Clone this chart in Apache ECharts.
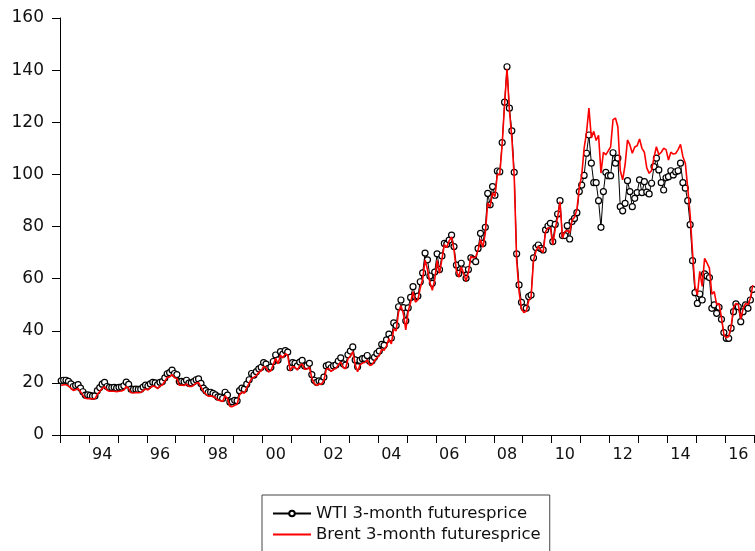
<!DOCTYPE html>
<html>
<head>
<meta charset="utf-8">
<script src="https://cdn.jsdelivr.net/npm/echarts@6/dist/echarts.min.js"></script>
<style>
html,body{margin:0;padding:0;background:#fff;}
#chart{width:755px;height:551px;}
</style>
</head>
<body>
<div id="chart"></div>
<script>
// Monthly observations, Jan 1993 - Dec 2016
var startYear = 1993;
var endYear = 2016;

var wti = [
  20.8, 21.0, 21.0, 20.6, 19.6, 18.6, 19.0, 19.3, 18.0, 16.6, 15.3, 15.4,
  15.2, 14.9, 15.0, 17.0, 18.2, 19.5, 20.2, 18.6, 18.3, 18.2, 18.3, 18.0,
  18.3, 18.4, 18.9, 20.3, 19.4, 17.6, 17.5, 17.6, 17.5, 17.6, 18.4, 19.1,
  18.8, 19.6, 20.2, 20.0, 19.3, 20.2, 20.5, 21.9, 23.5, 23.9, 24.9, 23.6,
  23.2, 20.5, 20.6, 20.4, 21.0, 19.9, 20.0, 20.5, 21.2, 21.5, 19.8, 18.0,
  17.0, 16.3, 16.4, 16.0, 15.4, 14.6, 14.5, 14.0, 16.4, 15.3, 12.6, 12.8,
  13.3, 13.1, 17.0, 18.0, 17.6, 19.5, 21.2, 23.6, 23.0, 24.3, 25.4, 26.0,
  27.8, 27.2, 25.6, 26.0, 28.2, 30.7, 28.8, 32.0, 31.0, 32.4, 31.8, 25.8,
  27.8, 27.5, 26.5, 28.0, 28.6, 26.5, 26.6, 27.5, 23.2, 21.0, 20.2, 20.8,
  20.5, 22.2, 26.5, 26.9, 25.8, 26.5, 26.9, 28.4, 29.6, 27.3, 26.8, 30.8,
  32.2, 33.8, 28.8, 26.2, 28.6, 29.3, 29.4, 30.5, 28.3, 28.5, 29.8, 31.3,
  32.2, 34.8, 34.4, 36.5, 38.7, 37.2, 43.0, 42.0, 49.2, 51.8, 48.9, 43.8,
  48.8, 52.8, 56.9, 53.0, 53.3, 58.8, 62.2, 69.8, 67.2, 61.0, 58.2, 62.5,
  69.5, 63.5, 68.7, 73.5, 73.2, 74.8, 76.7, 72.3, 65.2, 62.0, 65.9, 63.4,
  60.1, 63.5, 68.0, 67.4, 66.5, 71.6, 77.4, 73.5, 79.7, 92.7, 88.3, 95.3,
  92.0, 101.3, 101.0, 112.2, 127.7, 141.3, 125.4, 116.7, 100.8, 69.5, 57.6, 50.9,
  48.9, 48.6, 53.1, 53.7, 68.0, 71.9, 72.9, 71.6, 71.0, 78.7, 80.2, 81.2,
  74.2, 80.8, 84.8, 89.9, 76.5, 76.5, 80.3, 75.2, 81.9, 83.1, 85.3, 93.4,
  95.9, 99.6, 108.1, 115.1, 104.3, 96.8, 96.8, 89.9, 79.7, 93.4, 100.8, 99.5,
  99.5, 108.3, 104.3, 106.2, 87.6, 86.0, 88.9, 97.6, 93.4, 87.6, 90.8, 93.0,
  97.9, 93.0, 97.2, 93.2, 92.5, 96.6, 103.0, 106.2, 101.7, 96.8, 94.0, 98.7,
  99.1, 101.4, 99.8, 101.0, 101.4, 104.3, 96.8, 94.7, 89.9, 80.7, 66.9, 54.6,
  50.5, 54.1, 51.8, 61.8, 61.0, 60.4, 48.6, 49.9, 46.7, 49.0, 44.4, 39.3,
  37.1, 37.1, 41.0, 47.3, 50.3, 49.2, 43.5, 47.3, 49.9, 48.6, 51.8, 55.9
];

var brent = [
  19.0, 19.3, 19.3, 18.8, 18.0, 17.1, 17.4, 17.8, 16.6, 15.3, 14.1, 13.9,
  14.0, 13.8, 13.9, 15.6, 16.7, 17.9, 18.5, 17.2, 16.8, 16.8, 16.8, 16.6,
  16.8, 16.9, 17.3, 18.6, 17.8, 16.2, 16.1, 16.3, 16.2, 16.3, 17.0, 17.7,
  17.3, 18.2, 18.8, 18.6, 17.8, 18.8, 19.2, 20.6, 22.1, 22.3, 23.2, 22.0,
  21.7, 19.1, 19.2, 19.0, 19.6, 18.6, 18.6, 19.1, 19.9, 20.1, 18.5, 16.7,
  15.7, 14.9, 15.0, 14.8, 14.3, 13.4, 13.2, 12.8, 15.1, 13.9, 11.0, 10.9,
  11.4, 11.8, 15.4, 16.5, 16.0, 18.1, 19.9, 21.7, 22.2, 22.8, 24.1, 24.6,
  26.3, 25.8, 24.2, 24.6, 27.0, 29.4, 27.3, 30.6, 29.6, 31.2, 30.6, 24.6,
  26.3, 26.0, 24.9, 26.6, 27.3, 25.2, 25.3, 26.0, 21.8, 19.8, 19.0, 19.6,
  19.5, 20.9, 25.2, 25.5, 24.4, 25.2, 25.5, 26.9, 28.0, 25.9, 25.4, 29.2,
  30.3, 32.0, 26.9, 24.3, 26.9, 27.6, 27.8, 28.8, 26.7, 27.0, 28.4, 29.6,
  30.5, 32.9, 32.5, 34.2, 36.9, 35.0, 40.7, 39.9, 47.2, 49.6, 46.5, 40.3,
  47.5, 50.8, 55.0, 51.0, 51.8, 56.4, 59.8, 67.2, 63.5, 58.5, 55.5, 59.5,
  67.0, 62.0, 67.5, 73.0, 72.0, 74.5, 76.0, 71.0, 63.0, 60.5, 64.5, 62.0,
  59.0, 62.5, 68.5, 68.0, 68.3, 71.0, 75.0, 72.0, 77.5, 89.0, 87.5, 93.0,
  91.5, 100.0, 100.0, 111.5, 127.0, 140.5, 124.5, 114.0, 99.0, 67.0, 55.0, 48.5,
  47.0, 47.5, 51.5, 53.0, 67.0, 70.5, 72.5, 71.0, 70.0, 78.0, 79.5, 79.5,
  73.0, 79.0, 83.5, 89.5, 75.5, 78.0, 78.5, 77.5, 82.5, 83.5, 86.5, 95.0,
  99.5, 110.0, 116.0, 125.4, 114.0, 116.5, 113.0, 115.0, 100.5, 108.5, 107.5, 109.0,
  110.5, 121.0, 121.6, 118.3, 101.5, 97.9, 103.6, 113.2, 111.3, 108.1, 110.5, 111.0,
  113.6, 110.0, 108.5, 102.5, 100.4, 101.5, 106.5, 110.6, 107.5, 108.5, 110.0, 109.5,
  105.5, 108.5, 107.8, 108.0, 109.5, 111.5, 106.8, 104.3, 94.7, 84.5, 70.0, 57.0,
  53.7, 62.8, 57.0, 67.8, 66.0, 64.0, 54.0, 55.0, 50.0, 50.5, 45.0, 38.5,
  37.3, 37.8, 41.5, 49.0, 50.5, 50.0, 44.5, 48.5, 50.5, 50.0, 52.5, 57.5
];

var seriesNames = ['WTI 3-month futuresprice', 'Brent 3-month futuresprice'];
var yTicks = [0, 20, 40, 60, 80, 100, 120, 140, 160];

// month categories "1993-01" ...
var categories = [];
for (var y = startYear; y <= endYear; y++) {
  for (var m = 1; m <= 12; m++) {
    categories.push(y + '-' + (m < 10 ? '0' + m : m));
  }
}

var chart = echarts.init(document.getElementById('chart'), null, {renderer: 'canvas'});
chart.setOption({
  animation: false,
  backgroundColor: '#ffffff',
  grid: {left: 60, right: 1, top: 18, bottom: 116, containLabel: false},
  xAxis: {
    type: 'category',
    data: categories,
    boundaryGap: true,
    axisLine: {show: true, lineStyle: {color: '#000', width: 1}},
    axisTick: {
      show: true, inside: false, length: 8,
      interval: function (idx) { return idx % 12 === 0; },
      lineStyle: {color: '#000', width: 1}
    },
    axisLabel: {
      show: true, margin: 12,
      interval: function (idx) { return idx % 24 === 17; },
      formatter: function (v) { return v.substring(2, 4); },
      fontFamily: 'DejaVu Sans', fontSize: 16, color: '#111'
    },
    splitLine: {show: false}
  },
  yAxis: {
    type: 'value',
    min: yTicks[0], max: yTicks[yTicks.length - 1], interval: 20,
    axisLine: {show: true, lineStyle: {color: '#000', width: 1}},
    axisTick: {show: true, inside: false, length: 8, lineStyle: {color: '#000', width: 1}},
    axisLabel: {margin: 16, fontFamily: 'DejaVu Sans', fontSize: 17, color: '#111'},
    splitLine: {show: false}
  },
  legend: {
    orient: 'vertical',
    left: 262, top: 495,
    width: 300, height: 80,
    padding: [10, 9, 10, 10],
    itemWidth: 38, itemHeight: 7, itemGap: 4,
    borderColor: '#444', borderWidth: 1,
    textStyle: {fontFamily: 'DejaVu Sans', fontSize: 16.5, color: '#111', lineHeight: 14},
    data: [
      {name: seriesNames[0]},
      {name: seriesNames[1], itemStyle: {opacity: 0}}
    ]
  },
  series: [
    {
      name: seriesNames[0],
      type: 'line',
      data: wti,
      z: 2,
      symbol: 'circle',
      symbolSize: 6,
      showAllSymbol: true,
      lineStyle: {color: '#000', width: 1},
      itemStyle: {color: '#fff', borderColor: '#000', borderWidth: 1.2}
    },
    {
      name: seriesNames[1],
      type: 'line',
      data: brent,
      z: 3,
      symbol: 'none',
      lineStyle: {color: '#ff0000', width: 1.6},
      itemStyle: {color: '#ff0000'}
    }
  ]
});
</script>
</body>
</html>
